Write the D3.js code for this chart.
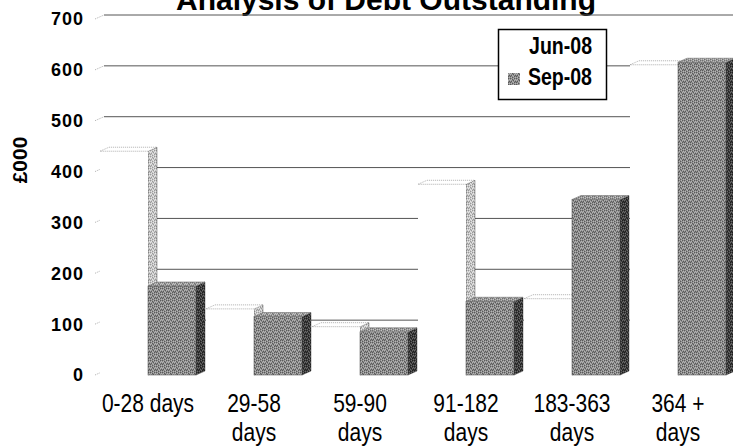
<!DOCTYPE html>
<html>
<head>
<meta charset="utf-8">
<script src="https://cdn.jsdelivr.net/npm/d3@7/dist/d3.min.js"></script>
<style>
  html, body { margin: 0; padding: 0; background: #fff; }
  svg { display: block; }
  text { font-family: Arial, "Liberation Sans", sans-serif; fill: #000; }
</style>
</head>
<body>
<svg id="chart" width="733" height="448"></svg>
<script>
// Debt outstanding by age band, £000
const categories = ["0-28 days", "29-58 days", "59-90 days", "91-182 days", "183-363 days", "364 + days"];
const categoryLines = [["0-28 days"], ["29-58", "days"], ["59-90", "days"], ["91-182", "days"], ["183-363", "days"], ["364 +", "days"]];
const seriesNames = ["Jun-08", "Sep-08"];
const jun08 = [440, 130, 95, 375, 150, 610];
const sep08 = [175, 115, 85, 145, 345, 615];
const yTicks = [0, 100, 200, 300, 400, 500, 600, 700];

const svg = d3.select("#chart");
const W = 733, H = 448;

// 3D depth offset of the back wall
const DX = 9, DY = 4;

const x = d3.scaleBand().domain(categories).range([95, 731]).padding(0);
const xs = d3.scaleBand().domain(seriesNames).range([0, x.bandwidth()]).paddingInner(0).paddingOuter(0.104);
const y = d3.scaleLinear().domain([0, 700]).range([375, 19]);

// Textures
const defs = svg.append("defs");
function stipple(id, bg, dark, light) {
  const p = defs.append("pattern").attr("id", id).attr("patternUnits", "userSpaceOnUse")
    .attr("width", 6).attr("height", 6);
  p.append("rect").attr("width", 6).attr("height", 6).attr("fill", bg);
  const darkPts = [[0,0],[2,1],[4,0],[1,3],[3,2],[5,3],[0,4],[2,5],[4,4]];
  const lightPts = [[1,1],[3,0],[5,1],[0,2],[4,2],[2,3],[1,5],[3,4],[5,5]];
  darkPts.forEach(([a,b]) => p.append("rect").attr("x", a).attr("y", b).attr("width", 1).attr("height", 1).attr("fill", dark));
  lightPts.forEach(([a,b]) => p.append("rect").attr("x", a).attr("y", b).attr("width", 1).attr("height", 1).attr("fill", light));
}
stipple("sepFront", "#8c8c8c", "#5a5a5a", "#b4b4b4");
stipple("sepSide", "#3e3e3e", "#1e1e1e", "#6a6a6a");
stipple("sepTop", "#9a9a9a", "#707070", "#c4c4c4");
stipple("junSide", "#c6c6c6", "#9a9a9a", "#e6e6e6");

// Title (partly above the top edge)
svg.append("text").attr("x", 386).attr("y", 10).attr("text-anchor", "middle")
  .attr("font-size", 30).attr("font-weight", "bold").text("Analysis of Debt Outstanding");

// Gridlines on the back wall with short diagonal ticks at the front
const grid = svg.append("g");
yTicks.forEach(v => {
  const yf = y(v);
  grid.append("line").attr("x1", 95).attr("y1", yf).attr("x2", 95 + DX).attr("y2", yf - DY)
    .attr("stroke", "#9a9a9a").attr("stroke-width", 0.8).attr("stroke-dasharray", "1,1");
  if (v > 0) {
    grid.append("line").attr("x1", 95 + DX).attr("y1", yf - DY).attr("x2", W).attr("y2", yf - DY)
      .attr("stroke", "#555").attr("stroke-width", 1);
  }
});

// Y tick labels
svg.append("g").selectAll("text").data(yTicks).join("text")
  .attr("x", 84).attr("y", d => y(d)).attr("dy", "0.36em").attr("text-anchor", "end")
  .attr("font-size", 18).attr("font-weight", "bold").attr("letter-spacing", 1)
  .text(d => d);

// Y axis title
svg.append("text").attr("transform", "translate(27,160) rotate(-90)")
  .attr("text-anchor", "middle").attr("font-size", 21).attr("font-weight", "bold").text("£000");

// Draw one 3D column
function column(g, x0, w, v, front, side, top, frontStroke) {
  const x1 = x0 + w, yt = y(v), yb = y(0);
  // right side face
  g.append("path")
    .attr("d", `M${x1},${yt} L${x1 + DX},${yt - DY} L${x1 + DX},${yb - DY} L${x1},${yb} Z`)
    .attr("fill", side).attr("stroke", side === "none" ? "none" : "#333").attr("stroke-width", 0.4);
  // front face
  g.append("rect").attr("x", x0).attr("y", yt).attr("width", w).attr("height", yb - yt)
    .attr("fill", front).attr("stroke", frontStroke).attr("stroke-width", 0.5);
  // top face
  g.append("path")
    .attr("d", `M${x0},${yt} L${x0 + DX},${yt - DY} L${x1 + DX},${yt - DY} L${x1},${yt} Z`)
    .attr("fill", top).attr("stroke", "#777").attr("stroke-width", 0.6)
    .attr("stroke-dasharray", top === "#fff" ? "1,1" : null);
}

const bars = svg.append("g");
categories.forEach((c, i) => {
  const g = bars.append("g");
  column(g, x(c) + xs("Jun-08"), xs.bandwidth(), jun08[i], "#fff", "url(#junSide)", "#fff", "none");
  column(g, x(c) + xs("Sep-08"), xs.bandwidth(), sep08[i], "url(#sepFront)", "url(#sepSide)", "url(#sepTop)", "#444");
});

// Category labels
const xl = svg.append("g");
categories.forEach((c, i) => {
  const cx = x(c) + x.bandwidth() / 2;
  categoryLines[i].forEach((line, k) => {
    xl.append("text")
      .attr("transform", `translate(${cx},${412 + k * 29}) scale(0.84,1)`)
      .attr("text-anchor", "middle").attr("font-size", 25).text(line);
  });
});

// Legend
const lg = svg.append("g");
lg.append("rect").attr("x", 498.5).attr("y", 29.5).attr("width", 108).attr("height", 70)
  .attr("fill", "#fff").attr("stroke", "#000").attr("stroke-width", 1.5);
const legendFills = ["#fff", "url(#sepFront)"];
seriesNames.forEach((s, k) => {
  const yy = 54 + k * 31;
  lg.append("rect").attr("x", 508).attr("y", yy - 12).attr("width", 12).attr("height", 12)
    .attr("fill", legendFills[k]);
  lg.append("text").attr("transform", `translate(592,${yy}) scale(0.85,1)`)
    .attr("text-anchor", "end").attr("font-size", 23).attr("font-weight", "bold").text(s);
});
</script>
</body>
</html>
